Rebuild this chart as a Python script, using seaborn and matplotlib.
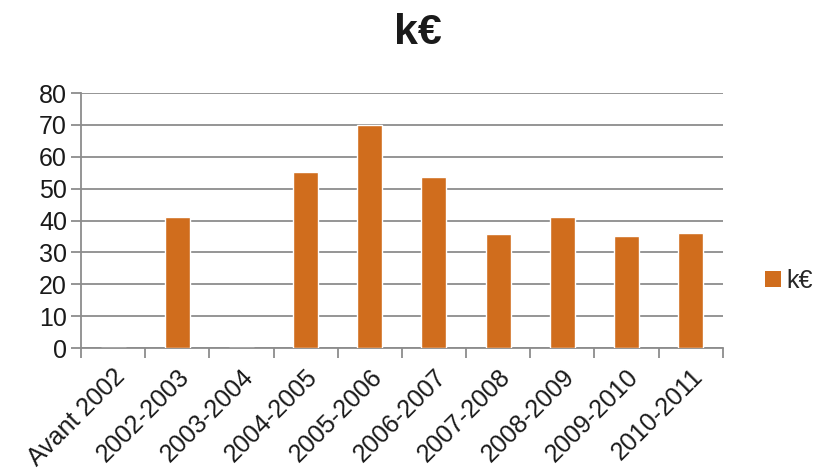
import matplotlib
matplotlib.use("Agg")
import matplotlib.pyplot as plt
import seaborn as sns
import pandas as pd
import numpy as np
from matplotlib.patches import Patch

# Amounts per academic year (k€); empty years drawn as zero-height bars
periods = ["Avant 2002", "2002-2003", "2003-2004", "2004-2005", "2005-2006",
           "2006-2007", "2007-2008", "2008-2009", "2009-2010", "2010-2011"]
amounts = [0, 41, 0, 55.2, 70, 53.7, 35.8, 41, 35, 36.1]
y_ticks = [0, 10, 20, 30, 40, 50, 60, 70, 80]
series_name = "k€"

bar_color = "#D06D1D"
grid_color = "#8C8C8C"

sns.set_theme(style="white")
plt.rcParams["font.family"] = ["Liberation Sans", "DejaVu Sans"]

df = pd.DataFrame({"period": periods, "amount": amounts})

fig = plt.figure(figsize=(8.15, 4.76), dpi=100)
ax = fig.add_axes([0.0994, 0.2689, 0.7874, 0.5357])

sns.barplot(data=df, x="period", y="amount", color=bar_color, width=0.39,
            saturation=1, ax=ax, zorder=3)

ax.set_xlim(-0.5, len(periods) - 0.5)
ax.set_ylim(0, 80)
ax.set_yticks(y_ticks)
ax.set_yticklabels([str(v) for v in y_ticks], fontsize=18, color="#1a1a1a")
ax.yaxis.grid(True, color=grid_color, linewidth=1.3, zorder=0)
ax.xaxis.grid(False)
ax.set_xlabel("")
ax.set_ylabel("")

# Category labels at bar centres, tick marks on category boundaries
ax.set_xticks(np.arange(len(periods)))
ax.set_xticklabels(periods, rotation=45, ha="right", rotation_mode="anchor",
                   fontsize=18, color="#1a1a1a")
ax.tick_params(axis="x", which="major", length=0, pad=12)
ax.set_xticks(np.arange(len(periods) + 1) - 0.5, minor=True)
ax.tick_params(axis="x", which="minor", length=7, width=1.3, color=grid_color,
               direction="out", bottom=True)
ax.tick_params(axis="y", length=7, width=1.3, color=grid_color,
               direction="out", left=True, pad=3)

for side in ["top", "right"]:
    ax.spines[side].set_visible(False)
for side in ["left", "bottom"]:
    ax.spines[side].set_color(grid_color)
    ax.spines[side].set_linewidth(1.3)

fig.text(0.513, 0.93, series_name, ha="center", va="center",
         fontsize=31, fontweight="bold", color="#1a1a1a")

handle = Patch(facecolor=bar_color, edgecolor="none", label=series_name)
fig.legend(handles=[handle], loc="center left", bbox_to_anchor=(0.9387, 0.41),
           frameon=False, fontsize=18, handlelength=0.65, handleheight=0.65,
           handletextpad=0.2, borderaxespad=0, borderpad=0)

fig.savefig("out.png", dpi=100)
